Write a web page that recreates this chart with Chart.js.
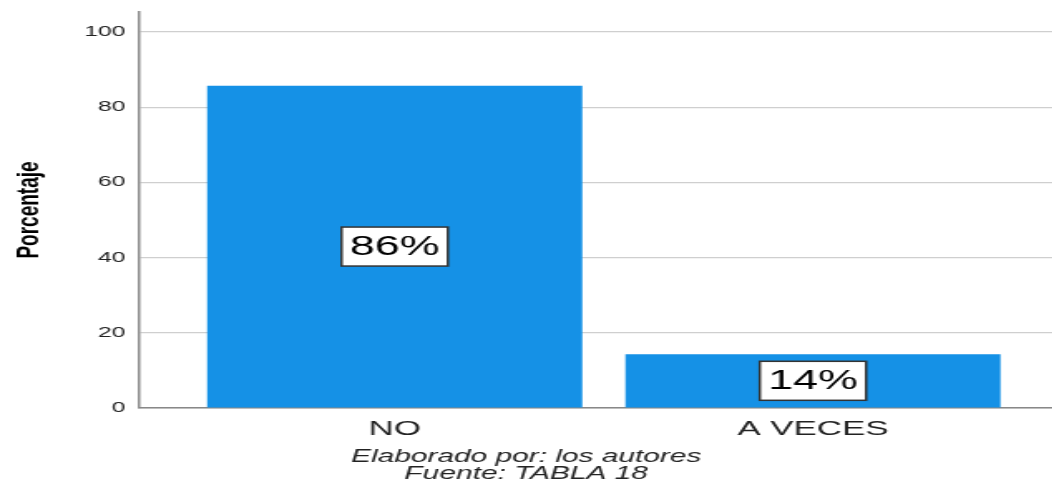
<!DOCTYPE html>
<html><head><meta charset="utf-8">
<script src="https://cdn.jsdelivr.net/npm/chart.js@4.4.0/dist/chart.umd.min.js"></script>
<style>
html,body{margin:0;padding:0;background:#fff;overflow:hidden;}
#wrap{width:634px;height:483px;transform:scaleX(1.66);transform-origin:0 0;}
canvas{display:block;}
</style></head><body>
<div id="wrap"><canvas id="c" width="634" height="483"></canvas></div>
<script>
const categories = ['NO', 'A VECES'];
const percentages = [85.7, 14.3];
const yTicks = [0, 20, 40, 60, 80, 100];
const yTitle = 'Porcentaje';
const footerLines = ['Elaborado por: los autores', 'Fuente: TABLA 18'];

const FONT = '"Liberation Sans", Arial, sans-serif';

const boxLabels = {
  id: 'boxLabels',
  afterDatasetsDraw(chart) {
    const ctx = chart.ctx;
    const meta = chart.getDatasetMeta(0);
    ctx.save();
    ctx.font = '27px ' + FONT;
    ctx.textAlign = 'center';
    ctx.textBaseline = 'middle';
    meta.data.forEach((bar, i) => {
      const t = Math.round(percentages[i]) + '%';
      const p = bar.getProps(['x', 'y', 'base'], true);
      const cy = (p.y + p.base) / 2;
      const w = ctx.measureText(t).width + 10;
      const h = 39;
      ctx.fillStyle = '#ffffff';
      ctx.fillRect(p.x - w / 2, cy - h / 2, w, h);
      ctx.strokeStyle = '#333333';
      ctx.lineWidth = 1.5;
      ctx.strokeRect(p.x - w / 2, cy - h / 2, w, h);
      ctx.fillStyle = '#000000';
      ctx.fillText(t, p.x, cy + 1);
    });
    ctx.restore();
  }
};

new Chart(document.getElementById('c'), {
  type: 'bar',
  data: {
    datasets: [{
      data: percentages.map((v, i) => ({ x: i, y: v })),
      backgroundColor: '#1591e6',
      borderWidth: 0,
      categoryPercentage: 1,
      barPercentage: 0.897
    }]
  },
  options: {
    responsive: false,
    animation: false,
    layout: { padding: { top: 12, right: 0, bottom: 0, left: 0 } },
    plugins: {
      legend: { display: false },
      tooltip: { enabled: false },
      title: {
        display: true,
        position: 'bottom',
        text: footerLines,
        color: '#222',
        font: { family: FONT, size: 18, style: 'italic', weight: 'normal', lineHeight: 0.95 },
        padding: { top: 0, bottom: 0 }
      }
    },
    scales: {
      x: {
        type: 'linear',
        offset: false,
        min: -0.6116,
        max: 1.5727,
        grid: { display: false, drawTicks: false, offset: false },
        border: { display: true, color: '#888', width: 1.5 },
        ticks: {
          padding: 8.5,
          color: '#222',
          font: { family: FONT, size: 21 },
          callback: v => categories[v] !== undefined ? categories[v] : ''
        },
        afterBuildTicks: s => { s.ticks = categories.map((_, i) => ({ value: i })); },
        afterFit: s => { s.height = 40.8; s.paddingLeft = 0; s.paddingRight = 0; }
      },
      y: {
        min: 0,
        max: 105.3,
        grid: { color: '#cfcfcf', lineWidth: 1.2, drawTicks: false },
        border: { display: true, color: '#888', width: 1.5 },
        ticks: { padding: 8, color: '#222', font: { family: FONT, size: 15 } },
        afterBuildTicks: s => { s.ticks = yTicks.map(v => ({ value: v })); },
        title: {
          display: true,
          text: yTitle,
          color: '#000',
          font: { family: FONT, size: 19, weight: 'bold' },
          padding: { top: 6, bottom: 0 }
        },
        afterFit: s => { s.width = 83.7; s.paddingTop = 0; s.paddingBottom = 0; }
      }
    }
  },
  plugins: [boxLabels]
});
</script>
</body></html>
